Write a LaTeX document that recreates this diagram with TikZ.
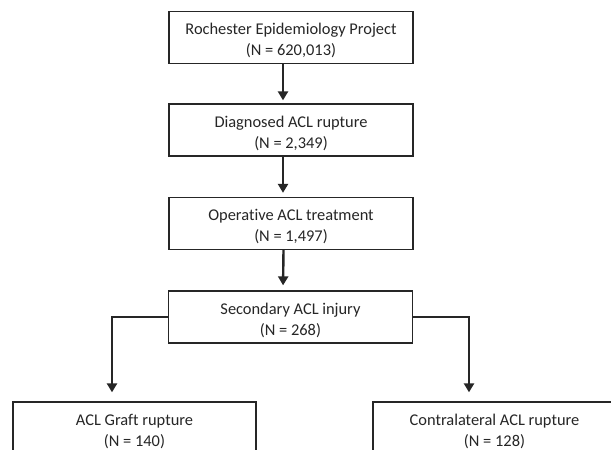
\documentclass[tikz,border=0pt]{standalone}
\usepackage{fontspec}
\setmainfont[Ligatures={NoCommon}]{Carlito}
\usetikzlibrary{arrows.meta}
\definecolor{ink}{gray}{0.15}
\newcommand\twolines[2]{\raisebox{-3.5pt}[\height][\depth]{\begin{tabular}{@{}c@{}}#1\\#2\end{tabular}}}
\tikzset{
  flowbox/.style={draw=ink, line width=1.3pt, minimum width=244pt, minimum height=52pt,
    inner sep=0pt, text=ink, font=\fontsize{16.4}{21}\selectfont},
  flowarrow/.style={draw=ink, line width=2.4pt, -{Triangle[length=9pt,width=10pt]}}
}
\begin{document}
\begin{tikzpicture}[x=1pt,y=-1pt]
\useasboundingbox (0,0) rectangle (611,450);
\fill[white] (0,0) rectangle (611,450);
\clip (0,0) rectangle (611,450);
\node[flowbox] (b1) at (291,37.5) {\twolines{Rochester Epidemiology Project}{(N = 620,013)}};
\node[flowbox] (b2) at (291,130) {\twolines{Diagnosed ACL rupture}{(N = 2,349)}};
\node[flowbox] (b3) at (291,223.5) {\twolines{Operative ACL treatment}{(N = 1,497)}};
\node[flowbox] (b4) at (290.5,317) {\twolines{Secondary ACL injury}{(N = 268)}};
\node[flowbox, minimum width=243pt] (gl) at (134.5,428) {\twolines{ACL Graft rupture}{(N = 140)}};
\node[flowbox, minimum width=243pt] (cl) at (494.5,428) {\twolines{Contralateral ACL rupture}{(N = 128)}};
\draw[flowarrow, shorten >=3pt] ([xshift=-8pt]b1.south) -- ([xshift=-8pt]b2.north);
\draw[flowarrow, shorten >=4pt] ([xshift=-8pt]b2.south) -- ([xshift=-8pt]b3.north);
\draw[flowarrow, shorten >=5pt] ([xshift=-7.5pt]b3.south) -- ([xshift=-7.5pt]b4.north);
\draw[flowarrow, shorten >=9pt] (b4.west) -| ([xshift=-22.5pt]gl.north);
\draw[flowarrow, shorten >=9pt] (b4.east) -| ([xshift=-25.5pt]cl.north);
\end{tikzpicture}
\end{document}
